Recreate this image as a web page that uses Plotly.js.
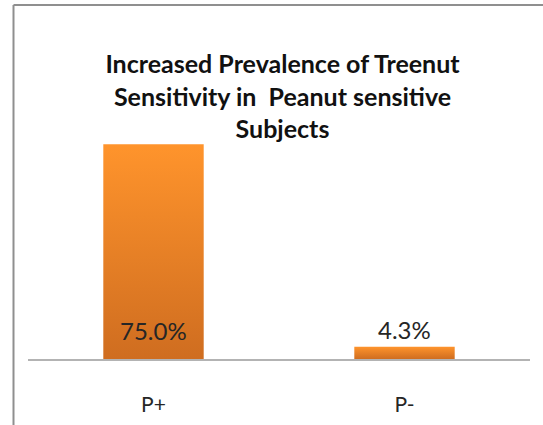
<!DOCTYPE html>
<html>
<head>
<meta charset="utf-8">
<script src="https://cdn.plot.ly/plotly-3.0.1.min.js"></script>
<style>
  html, body { margin: 0; padding: 0; background: #fff; }
  #chart { width: 543px; height: 425px; }
</style>
</head>
<body>
<div id="chart"></div>
<script>
// Share of subjects with treenut sensitivity, by peanut sensitivity group
const groups = ['P+', 'P-'];
const prevalence = [75.0, 4.3];
const labelInside = [true, false];
const chartTitle = 'Increased Prevalence of Treenut<br>Sensitivity in  Peanut sensitive<br>Subjects';

const FONT = 'Lato, "Open Sans", sans-serif';

const trace = {
  type: 'bar',
  x: groups,
  y: prevalence,
  marker: { color: '#f0852a', line: { width: 0 } },
  hoverinfo: 'skip'
};

// value labels: inside near the base for tall bars, above the bar otherwise
const valueLabels = groups.map(function (g, i) {
  return {
    x: g,
    y: labelInside[i] ? 0 : prevalence[i],
    xref: 'x',
    yref: 'y',
    text: prevalence[i].toFixed(1) + '%',
    showarrow: false,
    xanchor: 'center',
    yanchor: 'bottom',
    yshift: labelInside[i] ? 12 : 1,
    font: { family: FONT, size: 24, color: '#262626' }
  };
});

const layout = {
  width: 543,
  height: 425,
  margin: { l: 28, r: 13, t: 130, b: 66, pad: 0 },
  paper_bgcolor: '#ffffff',
  plot_bgcolor: '#ffffff',
  showlegend: false,
  bargap: 0.6,
  title: {
    text: chartTitle,
    font: { family: FONT, size: 25, color: '#111111', weight: 'bold' },
    x: 0.507,
    xanchor: 'center',
    xref: 'paper',
    y: 1 - 73 / 425,
    yref: 'container',
    yanchor: 'top'
  },
  xaxis: {
    type: 'category',
    range: [-0.5, 1.5],
    showline: true,
    linecolor: '#b3b3b3',
    linewidth: 2,
    ticks: '',
    ticklabelstandoff: 26,
    tickfont: { family: FONT, size: 21, color: '#262626' },
    showgrid: false,
    zeroline: false,
    fixedrange: true
  },
  yaxis: {
    range: [0, 80],
    visible: false,
    showgrid: false,
    zeroline: false,
    fixedrange: true
  },
  annotations: valueLabels,
  shapes: [
    // chart frame: left and top edges
    { type: 'line', xref: 'paper', yref: 'paper',
      x0: -14.5 / 502, x1: -14.5 / 502, y0: 1 + 125 / 229, y1: -66 / 229,
      line: { color: '#8f8f8f', width: 2 } },
    { type: 'line', xref: 'paper', yref: 'paper',
      x0: -14.5 / 502, x1: 515 / 502, y0: 1 + 125 / 229, y1: 1 + 125 / 229,
      line: { color: '#8f8f8f', width: 2 } }
  ]
};

Plotly.newPlot('chart', [trace], layout, { displayModeBar: false, staticPlot: true }).then(function (gd) {
  // vertical orange fade on each bar
  const svg = gd.querySelector('svg.main-svg');
  const ns = 'http://www.w3.org/2000/svg';
  let defs = svg.querySelector('defs');
  if (!defs) { defs = document.createElementNS(ns, 'defs'); svg.insertBefore(defs, svg.firstChild); }
  const grad = document.createElementNS(ns, 'linearGradient');
  grad.setAttribute('id', 'barFade');
  grad.setAttribute('x1', '0'); grad.setAttribute('y1', '0');
  grad.setAttribute('x2', '0'); grad.setAttribute('y2', '1');
  [['0', '#ff942c'], ['1', '#cf6d20']].forEach(function (s) {
    const stop = document.createElementNS(ns, 'stop');
    stop.setAttribute('offset', s[0]);
    stop.setAttribute('stop-color', s[1]);
    grad.appendChild(stop);
  });
  defs.appendChild(grad);
  gd.querySelectorAll('.bars .point path').forEach(function (p) {
    p.style.fill = 'url(#barFade)';
  });
});
</script>
</body>
</html>
